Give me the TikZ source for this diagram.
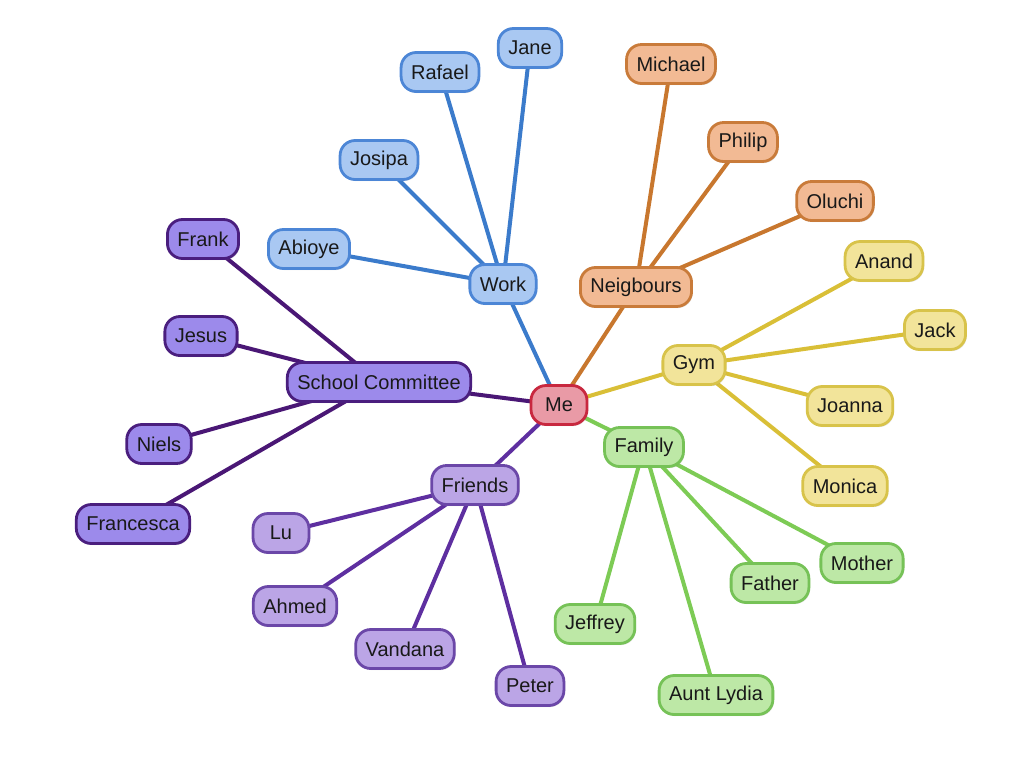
\documentclass[tikz,border=0pt]{standalone}
\usepackage{fontspec}
\setmainfont{Liberation Sans}
\usepackage{tikz}
\usetikzlibrary{shadows}
\usetikzlibrary{backgrounds}

\definecolor{mefill}{HTML}{E99AA6}
\definecolor{medraw}{HTML}{C8283F}
\definecolor{workfill}{HTML}{A9C8F2}
\definecolor{workdraw}{HTML}{4C86D6}
\definecolor{workline}{HTML}{3B7BCB}
\definecolor{neighfill}{HTML}{F2BA94}
\definecolor{neighdraw}{HTML}{C97B3A}
\definecolor{neighline}{HTML}{C8772E}
\definecolor{gymfill}{HTML}{F2E49A}
\definecolor{gymdraw}{HTML}{D8C34A}
\definecolor{gymline}{HTML}{D9BF37}
\definecolor{famfill}{HTML}{BDE8A6}
\definecolor{famdraw}{HTML}{76C257}
\definecolor{famline}{HTML}{7DCB55}
\definecolor{friendfill}{HTML}{BBA5E6}
\definecolor{frienddraw}{HTML}{6B47A8}
\definecolor{friendline}{HTML}{5E2FA0}
\definecolor{schoolfill}{HTML}{9C8AEB}
\definecolor{schooldraw}{HTML}{4A1E7E}
\definecolor{schoolline}{HTML}{4A1775}

\begin{document}
\begin{tikzpicture}
  [x=0.5pt,y=-0.5pt,
  box/.style={rectangle,rounded corners=7.5pt,line width=1.4pt,minimum height=19.5pt,minimum width=28pt,inner xsep=5pt,font=\fontsize{10}{12}\selectfont,text=black!90,drop shadow={opacity=0.2,shadow xshift=0.6pt,shadow yshift=-0.8pt}},
  menode/.style={box,draw=medraw,fill=mefill},
  worknode/.style={box,draw=workdraw,fill=workfill},
  neighnode/.style={box,draw=neighdraw,fill=neighfill},
  gymnode/.style={box,draw=gymdraw,fill=gymfill},
  famnode/.style={box,draw=famdraw,fill=famfill},
  friendnode/.style={box,draw=frienddraw,fill=friendfill},
  schoolnode/.style={box,draw=schooldraw,fill=schoolfill},
  link/.style={line width=2pt}]
  \useasboundingbox (0,0) rectangle (1024,783);

  \node[menode] (me) at (559,405) {Me};

  \node[worknode] (work) at (503,284) {Work};
  \node[worknode] (w1) at (309,249) {Abioye};
  \node[worknode] (w2) at (379,160) {Josipa};
  \node[worknode] (w3) at (440,72) {Rafael};
  \node[worknode] (w4) at (530,48) {Jane};

  \node[neighnode] (neigh) at (636,287) {Neigbours};
  \node[neighnode] (n1) at (671,64) {Michael};
  \node[neighnode] (n2) at (743,142) {Philip};
  \node[neighnode] (n3) at (835,201) {Oluchi};

  \node[gymnode] (gym) at (694,365) {Gym};
  \node[gymnode] (g1) at (884,261) {Anand};
  \node[gymnode] (g2) at (935,330) {Jack};
  \node[gymnode] (g3) at (850,406) {Joanna};
  \node[gymnode] (g4) at (845,486) {Monica};

  \node[famnode] (fam) at (644,447) {Family};
  \node[famnode] (f1) at (862,563) {Mother};
  \node[famnode] (f2) at (770,583) {Father};
  \node[famnode] (f3) at (595,624) {Jeffrey};
  \node[famnode] (f4) at (716,695) {Aunt Lydia};

  \node[friendnode] (friends) at (475,485) {Friends};
  \node[friendnode] (p1) at (281,533) {Lu};
  \node[friendnode] (p2) at (295,606) {Ahmed};
  \node[friendnode] (p3) at (405,649) {Vandana};
  \node[friendnode] (p4) at (530,686) {Peter};

  \node[schoolnode] (school) at (379,382) {School Committee};
  \node[schoolnode] (s1) at (203,239) {Frank};
  \node[schoolnode] (s2) at (201,336) {Jesus};
  \node[schoolnode] (s3) at (159,444) {Niels};
  \node[schoolnode] (s4) at (133,524) {Francesca};

  % links behind the boxes
  \begin{scope}[on background layer]
    \draw [link,workline] (me.center) -- (work.center);
    \foreach \n in {w1,w2,w3,w4}
      \draw [link,workline] (work.center) -- (\n.center);

    \draw [link,neighline] (me.center) -- (neigh.center);
    \foreach \n in {n1,n2,n3}
      \draw [link,neighline] (neigh.center) -- (\n.center);

    \draw [link,gymline] (me.center) -- (gym.center);
    \foreach \n in {g1,g2,g3,g4}
      \draw [link,gymline] (gym.center) -- (\n.center);

    \draw [link,famline] (me.center) -- (fam.center);
    \foreach \n in {f1,f2,f3,f4}
      \draw [link,famline] (fam.center) -- (\n.center);

    \draw [link,friendline] (me.center) -- (friends.center);
    \foreach \n in {p1,p2,p3,p4}
      \draw [link,friendline] (friends.center) -- (\n.center);

    \draw [link,schoolline] (me.center) -- (school.center);
    \foreach \n in {s1,s2,s3,s4}
      \draw [link,schoolline] (school.center) -- (\n.center);
  \end{scope}
\end{tikzpicture}
\end{document}
